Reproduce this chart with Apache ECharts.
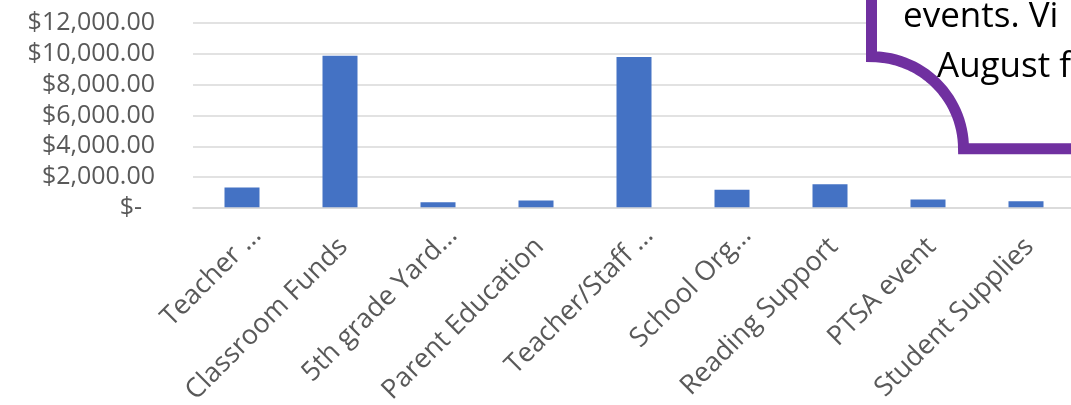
<!DOCTYPE html>
<html>
<head>
<meta charset="utf-8">
<script src="https://cdn.jsdelivr.net/npm/echarts@6/dist/echarts.min.js"></script>
<style>
  html, body { margin: 0; padding: 0; background: #fff; }
  #chart { width: 1071px; height: 405px; }
</style>
</head>
<body>
<div id="chart"></div>
<script>
// categories as shown (truncated ones carry the ellipsis)
var categories = ['Teacher …', 'Classroom Funds', '5th grade Yard…', 'Parent Education',
  'Teacher/Staff …', 'School Org…', 'Reading Support', 'PTSA event', 'Student Supplies'];
var amounts = [1330, 9880, 380, 490, 9790, 1180, 1545, 552, 442];
var yTicks = [0, 2000, 4000, 6000, 8000, 10000, 12000];
var calloutLines = ['events. Vi', 'August f'];

var font = '"Open Sans", "Noto Sans", sans-serif';

function money(v) {
    if (v === 0) return '$-  ';
    return '$' + v.toLocaleString('en-US', { minimumFractionDigits: 2, maximumFractionDigits: 2 });
}

// outline of the callout box with its concave corner
function calloutOutline() {
    var cx = 871.5, cy = 148.7, r = 92;
    var pts = [[cx, -10]];
    for (var i = 0; i <= 30; i++) {
        var a = -Math.PI / 2 + (Math.PI / 2) * i / 30;
        pts.push([cx + r * Math.cos(a), cy + r * Math.sin(a)]);
    }
    pts.push([1090, cy]);
    return pts;
}
var outline = calloutOutline();

var chart = echarts.init(document.getElementById('chart'));

chart.setOption({
    animation: false,
    // keep the plot box fixed even though the labels run to the edge
    grid: { left: 193, top: 23, width: 882, height: 185, outerBoundsMode: 'none' },
    xAxis: {
        type: 'category',
        data: categories,
        z: 3,
        axisLine: { lineStyle: { color: '#D9D9D9', width: 1.5 } },
        axisTick: { length: 10, lineStyle: { color: '#D9D9D9', width: 1.5 } },
        axisLabel: {
            interval: 0,
            rotate: 45,
            margin: 38,
            color: '#595959',
            fontFamily: font,
            fontSize: 27,
            formatter: function(v) {
                // clipped labels reach further past the tick than full ones
                return v.indexOf('…') >= 0 ? '{c|' + v + '}' : '{f|' + v + '}';
            },
            rich: {
                f: { color: '#595959', fontFamily: font, fontSize: 27, padding: [0, -5, 0, 0] },
                c: { color: '#595959', fontFamily: font, fontSize: 27, padding: [0, -21, 0, 0] }
            }
        }
    },
    yAxis: {
        type: 'value',
        min: yTicks[0],
        max: yTicks[yTicks.length - 1],
        interval: 2000,
        axisLine: { show: false },
        axisTick: { show: false },
        splitLine: { lineStyle: { color: '#D9D9D9', width: 1.5 } },
        axisLabel: {
            margin: 38,
            color: '#595959',
            fontFamily: font,
            fontSize: 25,
            formatter: money
        }
    },
    series: [{
        type: 'bar',
        data: amounts,
        barWidth: 35,
        itemStyle: { color: '#4472C4' }
    }],
    graphic: [{
        type: 'polygon',
        z: 100,
        shape: { points: outline.concat([[1090, -10]]) },
        style: { fill: '#fff' }
    }, {
        type: 'polyline',
        z: 101,
        shape: { points: outline },
        style: { stroke: '#7030A0', lineWidth: 11, fill: null }
    }, {
        type: 'text',
        z: 102,
        x: 903,
        y: 0,
        style: { text: calloutLines[0], fill: '#000', fontFamily: font, fontSize: 35 }
    }, {
        type: 'text',
        z: 102,
        x: 937,
        y: 50,
        style: { text: calloutLines[1], fill: '#000', fontFamily: font, fontSize: 35 }
    }]
});
</script>
</body>
</html>
